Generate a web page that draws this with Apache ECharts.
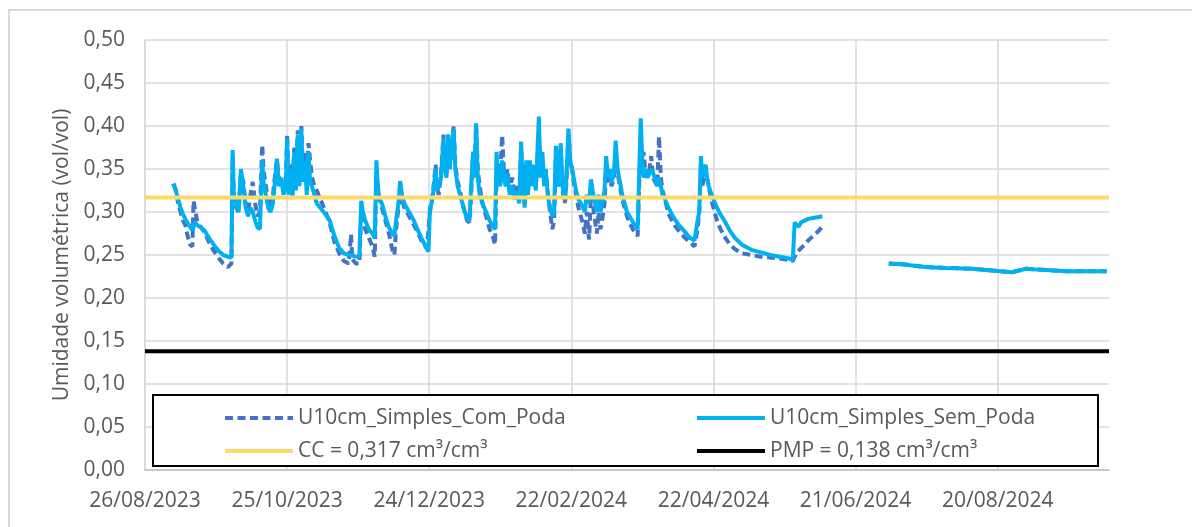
<!DOCTYPE html>
<html><head><meta charset="utf-8">
<script src="https://cdn.jsdelivr.net/npm/echarts@6/dist/echarts.min.js"></script>
<style>html,body{margin:0;padding:0;background:#fff}#c{width:1192px;height:527px}</style>
</head><body><div id="c"></div>
<script>
// ---------- DATA ----------
const dates = [
 '2023-09-07','2023-09-08','2023-09-09','2023-09-10','2023-09-11','2023-09-12','2023-09-13','2023-09-14','2023-09-15','2023-09-15 12',
 '2023-09-16','2023-09-17','2023-09-18','2023-09-20','2023-09-22','2023-09-24','2023-09-26','2023-09-28','2023-09-30','2023-10-01 12',
 '2023-10-02','2023-10-02 12','2023-10-03 12','2023-10-04 12','2023-10-05 12','2023-10-06 12','2023-10-07 12','2023-10-08 12','2023-10-09 12','2023-10-10 12',
 '2023-10-11 12','2023-10-12 12','2023-10-13 12','2023-10-14 12','2023-10-15','2023-10-16','2023-10-17','2023-10-18','2023-10-19','2023-10-20',
 '2023-10-20 17','2023-10-21 12','2023-10-22 12','2023-10-23 12','2023-10-24 12','2023-10-25','2023-10-25 17','2023-10-26 12','2023-10-27 07','2023-10-28',
 '2023-10-28 17','2023-10-29 12','2023-10-30 05','2023-10-31','2023-10-31 17','2023-11-01 12','2023-11-02 07','2023-11-03','2023-11-03 17','2023-11-04 12',
 '2023-11-05 12','2023-11-06 12','2023-11-08','2023-11-10','2023-11-12','2023-11-14','2023-11-16','2023-11-18','2023-11-20','2023-11-21',
 '2023-11-21 12','2023-11-23','2023-11-24 12','2023-11-25 07','2023-11-26','2023-11-27','2023-11-28 12','2023-11-30','2023-12-01','2023-12-01 17',
 '2023-12-02 07','2023-12-03','2023-12-04','2023-12-05','2023-12-06','2023-12-07','2023-12-08 12','2023-12-09 07','2023-12-10','2023-12-11',
 '2023-12-11 17','2023-12-12 12','2023-12-13 12','2023-12-14 12','2023-12-15 12','2023-12-16 12','2023-12-17 12','2023-12-19','2023-12-21','2023-12-23',
 '2023-12-23 17','2023-12-24 07','2023-12-25','2023-12-26','2023-12-26 17','2023-12-27 07','2023-12-28','2023-12-29','2023-12-30','2023-12-30 17',
 '2023-12-31 07','2024-01-01','2024-01-01 14','2024-01-02 07','2024-01-03 07','2024-01-04','2024-01-05','2024-01-06','2024-01-07','2024-01-08',
 '2024-01-09','2024-01-10','2024-01-10 17','2024-01-11 12','2024-01-12 05','2024-01-12 19','2024-01-13 12','2024-01-14 07','2024-01-15 12','2024-01-17',
 '2024-01-18 12','2024-01-20','2024-01-20 19','2024-01-21 10','2024-01-22','2024-01-23','2024-01-23 19','2024-01-24 12','2024-01-25 07','2024-01-26',
 '2024-01-27','2024-01-28','2024-01-29','2024-01-30','2024-01-31','2024-01-31 19','2024-02-01 12','2024-02-02 07','2024-02-03','2024-02-03 17',
 '2024-02-04 12','2024-02-05 07','2024-02-06','2024-02-07','2024-02-08 07','2024-02-09','2024-02-09 19','2024-02-10 12','2024-02-11 05','2024-02-12',
 '2024-02-13','2024-02-14','2024-02-14 17','2024-02-15 12','2024-02-16 05','2024-02-17','2024-02-17 12','2024-02-18 07','2024-02-19','2024-02-19 14',
 '2024-02-20 19','2024-02-21 12','2024-02-22 07','2024-02-23','2024-02-24','2024-02-25','2024-02-26','2024-02-27','2024-02-27 17','2024-02-28 12',
 '2024-02-29 12','2024-03-01 07','2024-03-02','2024-03-03','2024-03-03 19','2024-03-04 12','2024-03-05 07','2024-03-06','2024-03-07','2024-03-07 17',
 '2024-03-08 12','2024-03-09 07','2024-03-10','2024-03-11','2024-03-11 17','2024-03-12 12','2024-03-13 12','2024-03-14 12','2024-03-15 12','2024-03-16 12',
 '2024-03-18','2024-03-19 12','2024-03-21','2024-03-21 17','2024-03-22 07','2024-03-22 22','2024-03-23 12','2024-03-24 07','2024-03-25','2024-03-26',
 '2024-03-26 17','2024-03-27 12','2024-03-28 07','2024-03-29 07','2024-03-30','2024-03-30 19','2024-03-31 12','2024-04-01 12','2024-04-03','2024-04-04 12',
 '2024-04-06','2024-04-08','2024-04-10','2024-04-12','2024-04-14','2024-04-14 19','2024-04-15 07','2024-04-16','2024-04-16 17','2024-04-17 07',
 '2024-04-18','2024-04-18 17','2024-04-19 07','2024-04-20','2024-04-21','2024-04-22','2024-04-23 12','2024-04-25','2024-04-27','2024-04-29',
 '2024-05-01','2024-05-04','2024-05-08','2024-05-12','2024-05-16','2024-05-20','2024-05-24','2024-05-25 12','2024-05-26 07','2024-05-27',
 '2024-05-28','2024-05-29','2024-05-30 12','2024-06-01','2024-06-03','2024-06-05','2024-06-07','2024-06-20','2024-07-05','2024-07-12',
 '2024-07-14','2024-07-20 12','2024-07-29','2024-08-09','2024-08-17 12','2024-08-26','2024-09-01','2024-09-06','2024-09-18','2024-10-05'
];
const comPoda = [
 0.333,0.325,0.310,0.300,0.290,0.285,0.272,0.262,0.260,0.313,
 0.305,0.290,0.285,0.277,0.265,0.255,0.247,0.240,0.236,0.240,
 0.365,0.315,0.305,0.300,0.345,0.335,0.310,0.300,0.320,0.335,
 0.310,0.295,0.300,0.378,0.350,0.330,0.315,0.305,0.320,0.345,
 0.360,0.340,0.335,0.325,0.340,0.390,0.330,0.355,0.330,0.375,
 0.335,0.395,0.340,0.400,0.345,0.370,0.335,0.380,0.360,0.340,
 0.330,0.325,0.315,0.302,0.287,0.265,0.252,0.243,0.240,0.274,
 0.245,0.240,0.240,0.300,0.295,0.280,0.270,0.260,0.248,0.345,
 0.330,0.315,0.305,0.295,0.285,0.275,0.255,0.250,0.280,0.305,
 0.325,0.315,0.305,0.300,0.295,0.290,0.285,0.277,0.265,0.258,
 0.260,0.300,0.310,0.335,0.355,0.330,0.320,0.345,0.390,0.355,
 0.345,0.390,0.350,0.365,0.400,0.355,0.335,0.325,0.310,0.300,
 0.290,0.288,0.320,0.370,0.350,0.400,0.350,0.330,0.310,0.295,
 0.280,0.270,0.262,0.340,0.355,0.345,0.389,0.350,0.335,0.350,
 0.325,0.340,0.320,0.330,0.315,0.375,0.335,0.310,0.355,0.325,
 0.350,0.340,0.350,0.330,0.390,0.345,0.360,0.335,0.345,0.325,
 0.300,0.280,0.290,0.365,0.330,0.335,0.375,0.325,0.310,0.315,
 0.390,0.360,0.350,0.335,0.320,0.305,0.295,0.285,0.275,0.300,
 0.268,0.320,0.310,0.290,0.275,0.300,0.280,0.290,0.310,0.350,
 0.335,0.340,0.330,0.340,0.370,0.345,0.330,0.315,0.305,0.295,
 0.285,0.277,0.272,0.270,0.390,0.350,0.370,0.345,0.340,0.350,
 0.365,0.340,0.340,0.330,0.388,0.340,0.325,0.315,0.298,0.290,
 0.283,0.276,0.270,0.265,0.260,0.258,0.280,0.300,0.350,0.330,
 0.340,0.350,0.340,0.330,0.315,0.305,0.290,0.280,0.270,0.262,
 0.257,0.252,0.250,0.248,0.247,0.246,0.244,0.243,0.248,0.252,
 0.255,0.258,0.262,0.267,0.272,0.277,0.283,null,0.240,0.239,
 0.238,0.236,0.235,0.234,0.232,0.230,0.234,0.233,0.231,0.231
];
const semPoda = [
 0.333,0.325,0.315,0.305,0.298,0.292,0.287,0.283,0.279,0.282,
 0.288,0.285,0.283,0.279,0.270,0.262,0.255,0.250,0.248,0.247,
 0.372,0.320,0.310,0.300,0.350,0.330,0.305,0.295,0.305,0.300,
 0.290,0.282,0.280,0.360,0.335,0.320,0.305,0.300,0.310,0.340,
 0.362,0.330,0.340,0.320,0.330,0.385,0.320,0.350,0.315,0.370,
 0.325,0.390,0.330,0.397,0.335,0.360,0.320,0.370,0.335,0.330,
 0.320,0.310,0.305,0.298,0.290,0.272,0.258,0.252,0.250,0.250,
 0.249,0.248,0.248,0.313,0.300,0.290,0.280,0.275,0.270,0.360,
 0.330,0.315,0.310,0.300,0.290,0.282,0.275,0.272,0.290,0.310,
 0.336,0.320,0.310,0.305,0.300,0.295,0.290,0.280,0.268,0.257,
 0.254,0.305,0.310,0.330,0.350,0.325,0.330,0.340,0.385,0.350,
 0.340,0.390,0.350,0.370,0.397,0.350,0.330,0.320,0.310,0.300,
 0.293,0.290,0.330,0.370,0.340,0.403,0.340,0.320,0.310,0.300,
 0.290,0.283,0.280,0.370,0.340,0.330,0.360,0.340,0.330,0.345,
 0.320,0.330,0.315,0.325,0.310,0.382,0.330,0.305,0.360,0.320,
 0.360,0.330,0.355,0.325,0.411,0.340,0.370,0.330,0.350,0.320,
 0.305,0.295,0.300,0.377,0.330,0.340,0.380,0.330,0.315,0.320,
 0.397,0.360,0.350,0.340,0.325,0.315,0.310,0.305,0.300,0.320,
 0.310,0.338,0.325,0.310,0.300,0.320,0.300,0.310,0.325,0.365,
 0.340,0.350,0.335,0.345,0.383,0.350,0.335,0.320,0.310,0.300,
 0.293,0.286,0.280,0.278,0.409,0.360,0.340,0.350,0.340,0.345,
 0.350,0.345,0.340,0.330,0.340,0.330,0.320,0.315,0.305,0.297,
 0.290,0.283,0.277,0.270,0.267,0.265,0.290,0.300,0.365,0.340,
 0.345,0.355,0.340,0.330,0.322,0.315,0.305,0.297,0.288,0.278,
 0.270,0.262,0.256,0.253,0.250,0.248,0.246,0.244,0.288,0.285,
 0.283,0.288,0.290,0.292,0.293,0.294,0.295,null,0.240,0.239,
 0.238,0.236,0.235,0.234,0.232,0.230,0.234,0.233,0.231,0.231
];
const refLineDates = ['2023-08-26', '2024-10-06'];
const ccValues = [0.317, 0.317];
const pmpValues = [0.138, 0.138];
const xTickDates = ['2023-08-26','2023-10-25','2023-12-24','2024-02-22','2024-04-22','2024-06-21','2024-08-20'];
const seriesNames = ['U10cm_Simples_Com_Poda','U10cm_Simples_Sem_Poda','CC = 0,317 cm³/cm³','PMP = 0,138 cm³/cm³'];
const yAxisTitle = 'Umidade volumétrica (vol/vol)';

// ---------- HELPERS ----------
const BASE = Date.UTC(2023, 7, 26);
function dayOf(s) {
  const parts = s.split(' ');
  const [y, m, d] = parts[0].split('-').map(Number);
  const h = parts[1] ? Number(parts[1].split(':')[0]) : 0;
  return (Date.UTC(y, m - 1, d, h) - BASE) / 86400000;
}
function fmtDay(v) {
  const dt = new Date(BASE + Math.round(v) * 86400000);
  const p = n => String(n).padStart(2, '0');
  return p(dt.getUTCDate()) + '/' + p(dt.getUTCMonth() + 1) + '/' + dt.getUTCFullYear();
}
const pairs = (xs, ys) => xs.map((d, i) => [dayOf(d), ys[i]]);

const FONT = 'Open Sans';
const TXT = '#595959';
const GRID = '#d9d9d9';
const xTicks = xTickDates.map(dayOf);
const legendCommon = {
  orient: 'vertical', top: 401, itemWidth: 68, itemHeight: 14, itemGap: 9,
  itemStyle: {opacity: 0},
  lineStyle: {width: 4},
  textStyle: {color: TXT, fontSize: 21, fontFamily: FONT, lineHeight: 24},
  selectedMode: false, z: 10
};

const chart = echarts.init(document.getElementById('c'), null, {renderer: 'canvas'});
chart.setOption({
  animation: false,
  backgroundColor: '#fff',
  textStyle: {fontFamily: FONT},
  grid: {left: 145, right: 83, top: 40, bottom: 57, containLabel: false},
  xAxis: {
    type: 'value',
    min: 0,
    max: dayOf(refLineDates[1]),
    interval: 60,
    axisLine: {show: true, lineStyle: {color: '#bfbfbf', width: 1.5}},
    axisTick: {show: false, customValues: xTicks},
    axisLabel: {customValues: xTicks, formatter: fmtDay, color: TXT, fontSize: 21, fontFamily: FONT, margin: 21},
    splitLine: {show: true, lineStyle: {color: GRID, width: 1.5}}
  },
  yAxis: {
    type: 'value',
    min: 0, max: 0.5, interval: 0.05,
    name: yAxisTitle,
    nameLocation: 'middle',
    nameGap: 72,
    nameTextStyle: {color: TXT, fontSize: 21, fontFamily: FONT},
    axisLine: {show: true, lineStyle: {color: GRID, width: 1.5}},
    axisTick: {show: false},
    axisLabel: {formatter: v => v.toFixed(2).replace('.', ','), color: TXT, fontSize: 21, fontFamily: FONT, margin: 20},
    splitLine: {show: true, lineStyle: {color: GRID, width: 1.5}}
  },
  legend: [
    Object.assign({data: [seriesNames[0], seriesNames[2]], left: 218}, legendCommon),
    Object.assign({data: [seriesNames[1], seriesNames[3]], left: 690}, legendCommon)
  ],
  graphic: [
    {type: 'rect', z: 5, silent: true, shape: {x: 153, y: 395, width: 945, height: 71},
     style: {fill: '#fff', stroke: '#000', lineWidth: 2}},
    {type: 'rect', z: 5, silent: true, shape: {x: 9, y: 10, width: 1300, height: 700},
     style: {fill: 'none', stroke: GRID, lineWidth: 2}}
  ],
  series: [
    {name: seriesNames[0], type: 'line', data: pairs(dates, comPoda), showSymbol: false, symbol: 'none', connectNulls: false,
     lineStyle: {color: '#4472C4', width: 4, type: [8, 4.5]}, itemStyle: {color: '#4472C4'}, z: 2},
    {name: seriesNames[1], type: 'line', data: pairs(dates, semPoda), showSymbol: false, symbol: 'none', connectNulls: false,
     lineStyle: {color: '#00B0F0', width: 4}, itemStyle: {color: '#00B0F0'}, z: 3},
    {name: seriesNames[2], type: 'line', data: pairs(refLineDates, ccValues), showSymbol: false, symbol: 'none',
     lineStyle: {color: '#FFD966', width: 4}, itemStyle: {color: '#FFD966'}, z: 4},
    {name: seriesNames[3], type: 'line', data: pairs(refLineDates, pmpValues), showSymbol: false, symbol: 'none',
     lineStyle: {color: '#000000', width: 4}, itemStyle: {color: '#000000'}, z: 4}
  ]
});
</script>
</body></html>
